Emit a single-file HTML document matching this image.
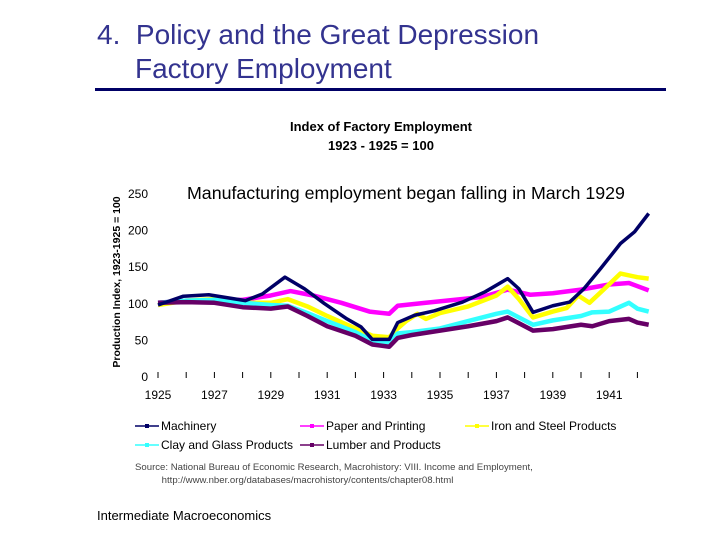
<!DOCTYPE html>
<html><head><meta charset="utf-8"><style>
body{margin:0;width:720px;height:540px;background:#fff;position:relative;overflow:hidden;font-family:"Liberation Sans",Arial,sans-serif}
.t{position:absolute;white-space:nowrap}
</style></head><body>
<div class="t" style="left:97px;top:18px;font-size:28px;color:#33338f;line-height:34px">4.&nbsp; Policy and the Great Depression<br><span style="padding-left:38px">Factory Employment</span></div>
<div style="position:absolute;left:95px;top:88px;width:571px;height:3px;background:#000066"></div>
<div class="t" style="left:231px;top:117px;width:300px;text-align:center;font-size:13px;font-weight:bold;line-height:19px">Index of Factory Employment<br>1923 - 1925 = 100</div>
<div class="t" style="left:187px;top:183px;font-size:17.8px">Manufacturing employment began falling in March 1929</div>
<div class="t" style="left:117px;top:282px;font-size:10.5px;font-weight:bold;transform:translate(-50%,-50%) rotate(-90deg)">Production Index, 1923-1925 = 100</div>
<svg id="chart" width="720" height="540" style="position:absolute;left:0;top:0"></svg>
<div class="t" style="left:135px;top:461px;font-size:9.6px;color:#444;line-height:13px">Source: National Bureau of Economic Research, Macrohistory: VIII. Income and Employment,<br>&nbsp;&nbsp;&nbsp;&nbsp;&nbsp;&nbsp;&nbsp;&nbsp;&nbsp;&nbsp;http://www.nber.org/databases/macrohistory/contents/chapter08.html</div>
<div class="t" style="left:97px;top:508px;font-size:13px">Intermediate Macroeconomics</div>
<script>
const yTicks=[0,50,100,150,200,250];
const xLabels=[1925,1927,1929,1931,1933,1935,1937,1939,1941];
const seriesNames=["Machinery","Paper and Printing","Iron and Steel Products","Clay and Glass Products","Lumber and Products"];
const machYears=[1925,1925.9,1926.8,1928.1,1928.7,1929.5,1930.2,1930.9,1931.7,1932.2,1932.6,1933.2,1933.5,1934.1,1934.8,1935.8,1936.6,1937.4,1937.8,1938.3,1939,1939.6,1940.1,1940.7,1941.4,1941.9,1942.4];
const machValues=[97,109,111,103,112,135,119,99,78,67,50,50,73,83,89,101,115,133,119,87,96,101,119,147,181,197,222];
const paperYears=[1925,1926,1927,1928,1929,1929.7,1930.5,1931.5,1932.5,1933.2,1933.5,1934.5,1935.5,1936.5,1937.4,1938.2,1939,1940,1941,1941.7,1942.4];
const paperValues=[100,103,104,104,110,116,110,100,88,85,96,100,104,108,118,111,113,118,125,127,117];
const steelYears=[1925,1926,1927,1928,1929,1929.6,1930.3,1931,1932,1932.6,1933.2,1933.5,1933.8,1934.2,1934.5,1935,1936,1937,1937.4,1937.8,1938.3,1939,1939.5,1939.9,1940.3,1940.8,1941.4,1942,1942.4];
const steelValues=[97,103,105,100,100,105,95,82,65,55,53,65,75,85,78,86,95,110,122,105,80,88,93,110,100,118,140,135,133];
const clayYears=[1925,1926,1927,1928,1929,1929.6,1930.3,1931,1932,1932.6,1933.2,1933.5,1934,1935,1936,1937,1937.4,1937.8,1938.3,1939,1940,1940.4,1941,1941.7,1942,1942.4];
const clayValues=[100,103,104,100,97,96,86,75,60,48,45,58,60,65,75,85,88,80,70,76,82,87,88,100,92,88];
const lumberYears=[1925,1926,1927,1928,1929,1929.6,1930.3,1931,1932,1932.6,1933.2,1933.5,1934,1935,1936,1937,1937.4,1937.8,1938.3,1939,1940,1940.4,1941,1941.7,1942,1942.4];
const lumberValues=[100,101,100,94,92,95,82,68,55,43,40,52,56,62,68,75,80,72,62,64,70,68,75,78,73,70];
const xs=y=>158+(y-1925)*28.2;
const ys=v=>376-v*0.732;
const svg=document.getElementById('chart');
const NS='http://www.w3.org/2000/svg';
function mk(t,a){const e=document.createElementNS(NS,t);for(const k in a)e.setAttribute(k,a[k]);svg.appendChild(e);return e;}
yTicks.forEach(v=>{const t=mk('text',{x:148,y:ys(v)+5,'text-anchor':'end','font-size':12,'font-family':'Liberation Sans'});t.textContent=v;

});
for(let yr=1925;yr<=1942;yr++){const l=mk('line',{x1:xs(yr),x2:xs(yr),y1:372,y2:378,stroke:'#000','stroke-width':1});

}
xLabels.forEach(yr=>{const t=mk('text',{x:xs(yr),y:399,'text-anchor':'middle','font-size':12,'font-family':'Liberation Sans'});t.textContent=yr;

});
const colors=['#000066','#ff00ff','#ffff00','#33ffff','#660066'];
const sets=[[machYears,machValues],[paperYears,paperValues],[steelYears,steelValues],[clayYears,clayValues],[lumberYears,lumberValues]];
const order=[1,2,3,4,0];
order.forEach(i=>{const [yy,vv]=sets[i];const p=mk('polyline',{points:yy.map((y,j)=>xs(y)+','+ys(vv[j])).join(' '),fill:'none',stroke:colors[i],'stroke-width':i==0?3.5:4.5,'stroke-linejoin':'round'});

});
const legPos=[[135,426],[300,426],[465,426],[135,445],[300,445]];
seriesNames.forEach((n,i)=>{const [x,y]=legPos[i];
const l=mk('line',{x1:x,x2:x+24,y1:y,y2:y,stroke:colors[i],'stroke-width':1.5});


mk('rect',{x:x+10,y:y-2,width:4,height:4,fill:colors[i]});
const t=mk('text',{x:x+26,y:y+4,'font-size':12,'font-family':'Liberation Sans'});t.textContent=n;

});
</script>
</body></html>
